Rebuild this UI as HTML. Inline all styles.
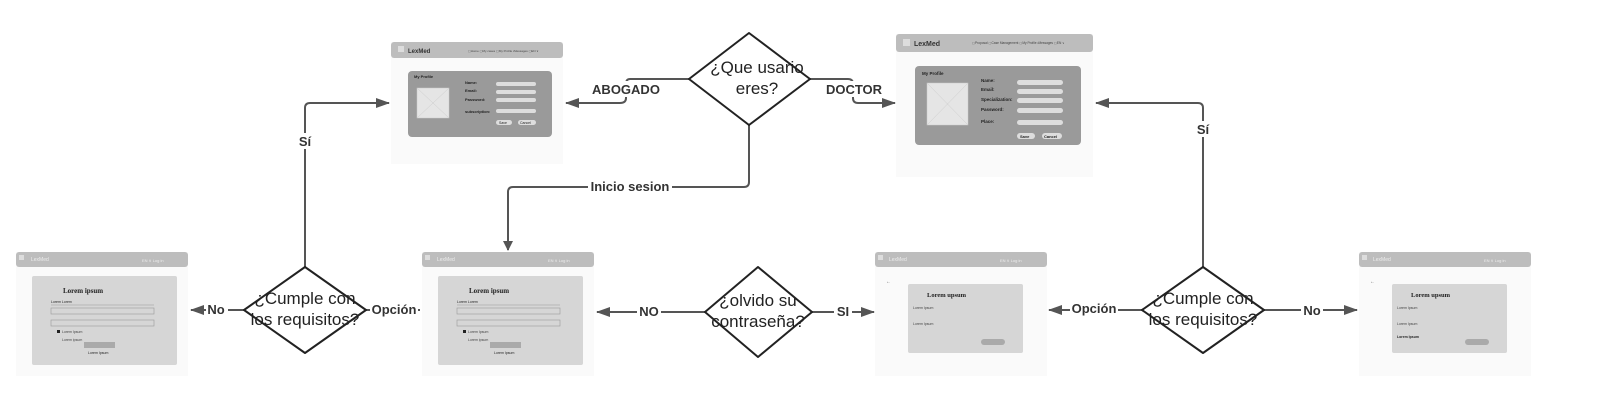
<!DOCTYPE html>
<html><head><meta charset="utf-8"><style>
html,body{margin:0;padding:0;background:#fff;}
svg{display:block;font-family:"Liberation Sans",sans-serif;}
</style></head><body>
<svg width="1600" height="414" viewBox="0 0 1600 414" xmlns="http://www.w3.org/2000/svg">
<defs>
<marker id="ah" markerWidth="10" markerHeight="10" refX="9" refY="5" orient="auto" markerUnits="userSpaceOnUse" viewBox="0 0 10 10">
<path d="M0,0 L10,5 L0,10 z" fill="#555"/></marker>
<marker id="ah2" markerWidth="14" markerHeight="10" refX="13" refY="5" orient="auto" markerUnits="userSpaceOnUse" viewBox="0 0 14 10">
<path d="M0,0 L14,5 L0,10 z" fill="#555"/></marker>
</defs>

<!-- Abogado profile -->
<rect x="391" y="42" width="172" height="122" fill="#fafafa"/>
<rect x="391" y="42" width="172" height="16" rx="3" fill="#bdbdbd"/>
<rect x="398" y="46" width="6" height="6" fill="#ddd"/>
<text x="408" y="53" font-size="6" font-weight="bold" fill="#333">LexMed</text>
<text x="468" y="52" font-size="3" fill="#444">▢Home  ▢My cases  ▢My Profile  ▪Messages   ▢EN ∨</text>
<rect x="408" y="71" width="144" height="66" rx="4" fill="#9a9a9a"/>
<text x="414" y="78" font-size="4" font-weight="bold" fill="#222">My Profile</text>
<rect x="417" y="88" width="32" height="30" fill="#e5e5e5" stroke="#ccc" stroke-width="0.5"/>
<path d="M417 88 L449 118 M449 88 L417 118" stroke="#ccc" stroke-width="0.5"/>
<g font-size="4" font-weight="bold" fill="#222">
<text x="465" y="84">Name:</text><text x="465" y="92">Email:</text><text x="465" y="101">Password:</text><text x="465" y="113">subscription:</text></g>
<g fill="#ddd"><rect x="496" y="82" width="40" height="4" rx="2"/><rect x="496" y="90" width="40" height="4" rx="2"/><rect x="496" y="98" width="40" height="4" rx="2"/><rect x="496" y="109" width="40" height="4" rx="2"/>
<rect x="496" y="120" width="16" height="5" rx="2.5"/><rect x="518" y="120" width="18" height="5" rx="2.5"/></g>
<text x="499" y="124" font-size="3.5" fill="#222">Save</text><text x="520" y="124" font-size="3.5" fill="#222">Cancel</text>

<!-- Doctor profile -->
<rect x="896" y="34" width="197" height="143" fill="#fafafa"/>
<rect x="896" y="34" width="197" height="18" rx="3" fill="#bdbdbd"/>
<rect x="903" y="39" width="7" height="7" fill="#ddd"/>
<text x="914" y="46" font-size="7" font-weight="bold" fill="#333">LexMed</text>
<text x="972" y="44" font-size="3.2" fill="#444">▢Proposal ▢Case Management ▢My Profile ▪Messages  ▢EN ∨</text>
<rect x="915" y="66" width="166" height="79" rx="4" fill="#9a9a9a"/>
<text x="922" y="75" font-size="4.5" font-weight="bold" fill="#222">My Profile</text>
<rect x="927" y="83" width="41" height="42" fill="#e5e5e5" stroke="#ccc" stroke-width="0.5"/>
<path d="M927 83 L968 125 M968 83 L927 125" stroke="#ccc" stroke-width="0.5"/>
<g font-size="4.5" font-weight="bold" fill="#222">
<text x="981" y="82">Name:</text><text x="981" y="91">Email:</text><text x="981" y="101">Specialization:</text><text x="981" y="111">Password:</text><text x="981" y="123">Place:</text></g>
<g fill="#ddd"><rect x="1017" y="80" width="46" height="5" rx="2.5"/><rect x="1017" y="89" width="46" height="5" rx="2.5"/><rect x="1017" y="98" width="46" height="5" rx="2.5"/><rect x="1017" y="108" width="46" height="5" rx="2.5"/><rect x="1017" y="120" width="46" height="5" rx="2.5"/>
<rect x="1017" y="133" width="18" height="6" rx="3"/><rect x="1042" y="133" width="20" height="6" rx="3"/></g>
<text x="1020" y="138" font-size="4" font-weight="bold" fill="#222">Save</text><text x="1044" y="138" font-size="4" font-weight="bold" fill="#222">Cancel</text>

<!-- Bottom screens: login type -->
<g id="s1">
<rect x="16" y="252" width="172" height="124" fill="#fafafa"/>
<rect x="16" y="252" width="172" height="15" rx="3" fill="#bdbdbd"/>
<rect x="19" y="255" width="5" height="5" fill="#ddd"/>
<text x="31" y="261" font-size="5" fill="#eee">LexMed</text>
<text x="142" y="262" font-size="4" fill="#eee">EN ∨    Log in</text>
<rect x="32" y="276" width="145" height="89" rx="2" fill="#d6d6d6"/>
<text x="63" y="293" font-size="7" font-weight="bold" font-family="Liberation Serif,serif" fill="#222">Lorem ipsum</text>
<text x="51" y="303" font-size="3.5" fill="#222">Lorem    Lorem</text>
<line x1="51" y1="305" x2="154" y2="305" stroke="#999" stroke-width="0.5"/>
<rect x="51" y="308" width="103" height="6" fill="none" stroke="#999" stroke-width="0.6"/>
<rect x="51" y="320" width="103" height="6" fill="none" stroke="#999" stroke-width="0.6"/>
<rect x="57" y="330" width="3" height="3" fill="#222"/>
<text x="62" y="333" font-size="3.5" fill="#444">Lorem Ipsum</text>
<text x="62" y="341" font-size="3.5" fill="#444">Lorem ipsum</text>
<rect x="84" y="342" width="31" height="6" fill="#aaa"/>
<text x="88" y="354" font-size="3.5" fill="#222">Lorem Ipsum</text>
</g>
<use href="#s1" transform="translate(406,0)"/>

<!-- reset-type screens -->
<g id="s3">
<rect x="875" y="252" width="172" height="124" fill="#fafafa"/>
<rect x="875" y="252" width="172" height="15" rx="3" fill="#bdbdbd"/>
<rect x="878" y="255" width="5" height="5" fill="#ddd"/>
<text x="889" y="261" font-size="5" fill="#eee">LexMed</text>
<text x="1000" y="262" font-size="4" fill="#eee">EN ∨    Log in</text>
<text x="886" y="283" font-size="5" fill="#555">←</text>
<rect x="908" y="284" width="115" height="69" rx="2" fill="#d6d6d6"/>
<text x="927" y="297" font-size="6.5" font-weight="bold" font-family="Liberation Serif,serif" fill="#222">Lorem upsum</text>
<text x="913" y="309" font-size="3.5" fill="#444">Lorem Ipsum</text>
<text x="913" y="325" font-size="3.5" fill="#444">Lorem Ipsum</text>
<rect x="981" y="339" width="24" height="6" rx="3" fill="#aaa"/>
</g>
<use href="#s3" transform="translate(484,0)"/>
<text x="1397" y="338" font-size="3.5" font-weight="bold" fill="#222">Lorem Ipsum</text>

<!-- connectors -->
<g stroke="#555" stroke-width="2" fill="none">
<path d="M689 79 H630 Q626 79 626 84 V98 Q626 103 620 103 H566" marker-end="url(#ah2)"/>
<path d="M810 79 H848 Q853 79 853 84 V98 Q853 103 858 103 H895" marker-end="url(#ah2)"/>
<path d="M749 125 V182 Q749 187 744 187 H513 Q508 187 508 192 V250" marker-end="url(#ah)"/>
<path d="M305 267 V108 Q305 103 310 103 H389" marker-end="url(#ah2)"/>
<path d="M244 310 H191" marker-end="url(#ah2)"/>
<path d="M366 310 H420"/>
<path d="M705 312 H597" marker-end="url(#ah2)"/>
<path d="M812 312 H874" marker-end="url(#ah2)"/>
<path d="M1142 310 H1049" marker-end="url(#ah2)"/>
<path d="M1264 310 H1357" marker-end="url(#ah2)"/>
<path d="M1203 267 V108 Q1203 103 1198 103 H1096" marker-end="url(#ah2)"/>
</g>

<!-- diamonds -->
<g fill="#fff" stroke="#222" stroke-width="2" stroke-linejoin="round">
<path d="M749 33 L810 79 L749 125 L689 79 Z"/>
<path d="M305 267 L366 310 L305 353 L244 310 Z"/>
<path d="M758 267 L812 312 L758 357 L705 312 Z"/>
<path d="M1203 267 L1264 310 L1203 353 L1142 310 Z"/>
</g>
<g font-size="17" fill="#222" text-anchor="middle">
<text x="757" y="73">¿Que usario</text><text x="757" y="94">eres?</text>
<text x="305" y="304">¿Cumple con</text><text x="305" y="325">los requisitos?</text>
<text x="758" y="306">¿olvido su</text><text x="758" y="327">contraseña?</text>
<text x="1203" y="304">¿Cumple con</text><text x="1203" y="325">los requisitos?</text>
</g>

<!-- labels -->
<g font-size="13" font-weight="bold" fill="#333" text-anchor="middle">
<rect x="590" y="81" width="72" height="16" fill="#fff" stroke="none"/>
<text x="626" y="94">ABOGADO</text>
<rect x="824" y="81" width="60" height="16" fill="#fff" stroke="none"/>
<text x="854" y="94">DOCTOR</text>
<rect x="588" y="178" width="84" height="16" fill="#fff" stroke="none"/>
<text x="630" y="191">Inicio sesion</text>
<rect x="297" y="133" width="16" height="16" fill="#fff"/><text x="305" y="146">Sí</text>
<rect x="1195" y="121" width="16" height="16" fill="#fff"/><text x="1203" y="134">Sí</text>
<rect x="206" y="302" width="22" height="15" fill="#fff"/><text x="216" y="314">No</text>
<rect x="370" y="302" width="48" height="15" fill="#fff"/><text x="394" y="314">Opción</text>
<rect x="637" y="304" width="24" height="15" fill="#fff"/><text x="649" y="316">NO</text>
<rect x="834" y="304" width="18" height="15" fill="#fff"/><text x="843" y="316">SI</text>
<rect x="1070" y="301" width="48" height="15" fill="#fff"/><text x="1094" y="313">Opción</text>
<rect x="1301" y="302" width="22" height="15" fill="#fff"/><text x="1312" y="315">No</text>
</g>
</svg>
</body></html>
